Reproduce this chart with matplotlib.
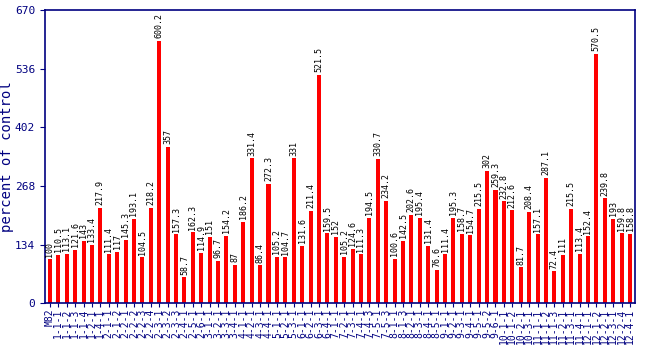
import numpy as np
import matplotlib
matplotlib.use("Agg")
import matplotlib.pyplot as plt

# data
labels = ["M82", "1-1-1", "1-1-2", "1-1-3", "1-1-4", "1-2-1", "1-4-1",
          "2-1-1", "2-1-2", "2-2-1", "2-2-2", "2-2-3", "2-2-4", "2-3-1",
          "2-3-2", "2-3-3", "2-4-1", "2-5-1", "2-6-1", "3-1-1", "3-2-1",
          "3-3-1", "3-4-1", "4-1-1", "4-2-1", "4-3-1", "4-4-1", "5-1-1",
          "5-2-1", "5-3-1", "6-1-1", "6-2-1", "6-3-1", "6-4-1", "7-1-1",
          "7-2-1", "7-3-1", "7-4-1", "7-4-3", "7-5-1", "7-5-3", "8-1-1",
          "8-1-3", "8-2-1", "8-3-1", "8-4-1", "8-5-1", "9-1-1", "9-2-1",
          "9-3-1", "9-4-1", "9-5-1", "9-5-2", "9-6-1", "10-1-1", "10-1-2",
          "10-2-1", "10-3-1", "11-1-1", "11-1-2", "11-1-3", "11-2-1",
          "11-3-1", "11-4-1", "12-1-1", "12-1-2", "12-2-1", "12-3-1",
          "12-2-4", "12-4-1"]
values = [100, 110.5, 113.1, 121.6, 143, 133.4, 217.9, 111.4, 117, 145.3,
          193.1, 104.5, 218.2, 600.2, 357, 157.3, 58.7, 162.3, 114.9, 151,
          96.7, 154.2, 87, 186.2, 331.4, 86.4, 272.3, 105.2, 104.7, 331,
          131.6, 211.4, 521.5, 159.5, 152, 105.2, 124.6, 111.3, 194.5, 330.7,
          234.2, 100.6, 142.5, 202.6, 195.4, 131.4, 76.6, 111.4, 195.3, 158.7,
          154.7, 215.5, 302, 259.3, 232.8, 212.6, 81.7, 208.4, 157.1, 287.1,
          72.4, 111, 215.5, 113.4, 152.4, 570.5, 239.8, 193, 159.8, 158.8]
yticks = [0, 134, 268, 402, 536, 670]

navy = "#000080"
plt.rcParams['font.family'] = ['DejaVu Sans Mono']

fig = plt.figure(figsize=(6.5, 3.5), dpi=100)
ax = fig.add_axes([0.069, 0.134, 0.908, 0.837])

x = np.arange(len(values))
ax.bar(x, values, width=0.48, color="red")
for xi, v in zip(x, values):
    ax.text(xi, v + 6, f"{v:g}", rotation=90, ha="center", va="bottom",
            fontsize=6, color="black")

ax.set_xlim(-0.6, len(values) - 0.4)
ax.set_ylim(0, 670)
ax.set_yticks(yticks)
ax.set_xticks(x)
ax.set_xticklabels(labels, rotation=90, fontsize=7, color=navy)
ax.tick_params(axis="y", labelsize=8, colors=navy)
ax.tick_params(axis="x", colors=navy, length=3, pad=1)
ax.set_ylabel("percent of control", color=navy, fontsize=10)
ax.yaxis.set_label_coords(-0.053, 0.5)
for s in ax.spines.values():
    s.set_color(navy)
    s.set_linewidth(1.2)

fig.savefig("out.png", dpi=100)
